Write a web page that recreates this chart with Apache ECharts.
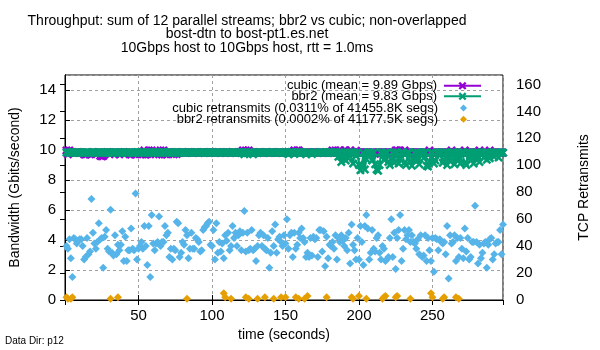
<!DOCTYPE html>
<html>
<head>
<meta charset="utf-8">
<script src="https://cdn.jsdelivr.net/npm/echarts@6/dist/echarts.min.js"></script>
<style>
  html, body { margin: 0; padding: 0; background: #fff; }
  #vis { width: 600px; height: 350px; }
</style>
</head>
<body>
<div id="vis"></div>
<script>
// throughput in Gbps, one value per second (t = 1 .. 298)
const cubicGbps = [
  9.97, 9.72, 9.96, 9.84, 9.83, 9.81, 9.84, 9.83, 9.85, 9.82,
  9.84, 9.83, 9.72, 9.70, 9.74, 9.84, 9.71, 9.73, 9.85, 9.84,
  9.82, 9.84, 9.83, 9.62, 9.58, 9.60, 9.72, 9.82, 9.85, 9.83,
  9.84, 9.82, 9.83, 9.72, 9.84, 9.82, 9.71, 9.84, 9.82, 9.85,
  9.83, 9.84, 9.82, 9.72, 9.70, 9.82, 9.74, 9.71, 9.85, 9.82,
  9.84, 9.83, 9.72, 9.96, 9.70, 9.73, 9.97, 9.71, 9.96, 9.84,
  9.82, 9.85, 9.83, 9.72, 9.96, 9.70, 9.97, 9.73, 9.71, 9.83,
  9.85, 9.83, 9.84, 9.72, 9.83, 9.73, 9.82, 9.84, 9.83, 9.85,
  9.83, 9.82, 9.84, 9.85, 9.83, 9.84, 9.82, 9.83, 9.85, 9.84,
  9.82, 9.84, 9.83, 9.85, 9.82, 9.83, 9.84, 9.82, 9.85, 9.83,
  9.84, 9.82, 9.83, 9.85, 9.84, 9.82, 9.83, 9.84, 9.82, 9.85,
  9.83, 9.84, 9.82, 9.85, 9.83, 9.82, 9.84, 9.83, 9.85, 9.82,
  9.97, 9.84, 9.96, 9.82, 9.97, 9.83, 9.82, 9.84, 9.83, 9.84,
  9.82, 9.85, 9.83, 9.84, 9.82, 9.83, 9.85, 9.84, 9.82, 9.83,
  9.85, 9.83, 9.84, 9.82, 9.83, 9.85, 9.82, 9.84, 9.83, 9.85,
  9.83, 9.84, 9.84, 9.85, 9.83, 9.97, 9.82, 9.96, 9.97, 9.84,
  9.82, 9.84, 9.83, 9.83, 9.82, 9.83, 9.84, 9.84, 9.85, 9.83,
  9.84, 9.82, 9.83, 9.85, 9.84, 9.82, 9.83, 9.84, 9.82, 9.85,
  9.83, 9.97, 9.82, 9.96, 9.83, 9.84, 9.97, 9.83, 9.84, 9.96,
  9.97, 9.83, 9.84, 9.96, 9.82, 9.83, 9.83, 9.95, 9.84, 9.83,
  9.83, 9.84, 9.82, 9.83, 9.84, 9.83, 9.84, 9.82, 9.83, 9.83,
  9.75, 9.83, 9.84, 9.83, 9.83, 9.84, 9.83, 9.82, 9.83, 9.84,
  9.83, 9.84, 9.83, 9.75, 9.96, 9.97, 9.83, 9.96, 9.83, 9.84,
  9.97, 9.83, 9.83, 9.82, 9.83, 9.84, 9.83, 9.83, 9.84, 9.84,
  9.83, 9.82, 9.83, 9.84, 9.84, 9.83, 9.84, 9.96, 9.83, 9.82,
  9.83, 9.84, 9.84, 9.83, 9.82, 9.84, 9.83, 9.84, 9.83, 9.83,
  9.82, 9.83, 9.96, 9.83, 9.84, 9.82, 9.83, 9.83, 9.84, 9.84,
  9.83, 9.97, 9.83, 9.82, 9.84, 9.83, 9.83, 9.84, 9.82, 9.83,
  9.84, 9.97, 9.83, 9.82, 9.84, 9.84, 9.83, 9.83, 9.96, 9.82,
  9.84, 9.83, 9.83, 9.82, 9.84, 9.84, 9.83, 9.82
];

const bbr2Gbps = [
  9.83, 9.85, 9.82, 9.84, 9.83, 9.81, 9.84, 9.83, 9.85, 9.82,
  9.84, 9.83, 9.82, 9.85, 9.83, 9.84, 9.82, 9.83, 9.85, 9.84,
  9.82, 9.84, 9.83, 9.85, 9.82, 9.83, 9.84, 9.82, 9.85, 9.83,
  9.84, 9.82, 9.83, 9.85, 9.84, 9.82, 9.83, 9.84, 9.82, 9.85,
  9.83, 9.84, 9.82, 9.85, 9.83, 9.82, 9.84, 9.83, 9.85, 9.82,
  9.84, 9.83, 9.85, 9.82, 9.84, 9.83, 9.82, 9.85, 9.83, 9.84,
  9.82, 9.85, 9.83, 9.84, 9.82, 9.83, 9.85, 9.84, 9.82, 9.83,
  9.85, 9.83, 9.84, 9.82, 9.83, 9.85, 9.82, 9.84, 9.83, 9.85,
  9.83, 9.82, 9.84, 9.85, 9.83, 9.84, 9.82, 9.83, 9.85, 9.84,
  9.82, 9.84, 9.83, 9.85, 9.82, 9.83, 9.84, 9.82, 9.85, 9.83,
  9.84, 9.82, 9.83, 9.85, 9.84, 9.82, 9.83, 9.84, 9.82, 9.85,
  9.83, 9.84, 9.82, 9.85, 9.83, 9.82, 9.84, 9.83, 9.85, 9.82,
  9.84, 9.72, 9.85, 9.82, 9.84, 9.83, 9.82, 9.72, 9.83, 9.84,
  9.82, 9.85, 9.83, 9.84, 9.82, 9.83, 9.85, 9.84, 9.82, 9.83,
  9.85, 9.83, 9.84, 9.82, 9.83, 9.85, 9.82, 9.84, 9.83, 9.85,
  9.83, 9.72, 9.84, 9.85, 9.83, 9.73, 9.82, 9.83, 9.85, 9.84,
  9.82, 9.84, 9.83, 9.72, 9.82, 9.83, 9.84, 9.73, 9.85, 9.83,
  9.84, 9.82, 9.83, 9.85, 9.84, 9.82, 9.83, 9.84, 9.82, 9.85,
  9.83, 9.84, 9.82, 9.85, 9.83, 9.55, 9.84, 9.20, 9.60, 9.82,
  9.30, 9.83, 9.45, 9.84, 9.82, 9.10, 9.83, 9.60, 9.84, 9.00,
  8.65, 8.95, 9.82, 8.70, 9.40, 9.83, 9.84, 9.82, 9.30, 9.83,
  9.05, 8.70, 8.62, 9.00, 9.83, 9.84, 9.35, 9.82, 9.83, 9.20,
  9.00, 9.35, 9.83, 9.15, 9.84, 9.82, 9.10, 9.40, 9.83, 9.84,
  9.15, 9.00, 9.83, 9.82, 9.25, 8.95, 9.35, 9.83, 9.30, 9.84,
  9.05, 9.82, 9.83, 9.45, 9.84, 8.95, 8.90, 9.25, 9.83, 9.82,
  9.10, 9.30, 9.84, 9.83, 9.82, 9.84, 9.15, 9.35, 9.83, 9.00,
  9.82, 9.25, 9.84, 9.83, 9.05, 9.82, 9.35, 9.83, 9.10, 9.84,
  9.83, 9.15, 9.00, 9.82, 9.84, 9.30, 9.83, 9.10, 9.82, 9.40,
  9.84, 9.20, 9.83, 9.82, 9.50, 9.84, 9.35, 9.83, 9.45, 9.82,
  9.84, 9.55, 9.83, 9.82, 9.50, 9.84, 9.83, 9.82
];

// TCP retransmits per second (right axis)
const cubicRetrans = [
  40, 38, 45, 31, 17, 46, 45, 42, 44, 45,
  45, 40, 30, 32, 46, 34, 36, 75, 50, 42,
  38, 43, 57, 45, 46, 24, 47, 52, 38, 36,
  67, 35, 33, 48, 34, 41, 37, 41, 51, 29,
  47, 29, 37, 37, 53, 38, 37, 79, 30, 38,
  40, 43, 38, 55, 40, 26, 55, 17, 63, 42,
  37, 42, 43, 62, 40, 43, 43, 55, 48, 50,
  32, 38, 30, 38, 37, 58, 57, 32, 35, 43,
  41, 52, 48, 31, 38, 50, 38, 38, 46, 45,
  43, 36, 37, 52, 54, 55, 57, 58, 41, 40,
  52, 30, 57, 35, 43, 36, 42, 31, 48, 44,
  50, 37, 40, 55, 46, 50, 40, 48, 51, 37,
  50, 66, 36, 50, 37, 38, 52, 37, 38, 29,
  40, 48, 50, 40, 48, 38, 37, 46, 24, 35,
  51, 40, 56, 35, 45, 47, 43, 40, 48, 42,
  60, 38, 48, 50, 32, 50, 38, 41, 50, 46,
  53, 46, 43, 32, 35, 32, 46, 33, 47, 45,
  46, 32, 52, 52, 36, 51, 25, 47, 31, 41,
  40, 43, 38, 48, 30, 46, 43, 48, 44, 40,
  46, 37, 50, 27, 56, 41, 37, 30, 46, 30,
  55, 43, 26, 55, 63, 53, 30, 35, 52, 38,
  36, 46, 48, 35, 30, 40, 38, 29, 30, 32,
  46, 60, 32, 50, 23, 46, 52, 63, 29, 38,
  52, 45, 48, 52, 43, 48, 43, 42, 38, 45,
  34, 48, 32, 33, 48, 29, 46, 37, 29, 46,
  21, 46, 45, 37, 45, 43, 42, 43, 34, 55,
  16, 48, 42, 43, 48, 29, 46, 32, 46, 38,
  31, 53, 36, 46, 30, 32, 43, 43, 70, 43,
  27, 41, 31, 35, 42, 43, 24, 41, 45, 46,
  30, 34, 42, 43, 43, 52, 34, 56
];

// bbr2 only retransmitted in a few seconds
const bbr2RetransTimes = [1, 2, 4, 5, 31, 36, 83, 108, 109, 113, 123, 125, 131, 136, 142, 147, 150,
  157, 159, 163, 165, 178, 195, 196, 200, 205, 216, 217, 218, 225, 226, 235, 249, 250, 257, 258, 266, 268];
const bbr2RetransValues = [2, 1, 1, 2, 1, 2, 1, 5, 2, 1, 2, 1, 1, 2, 1, 2, 2,
  2, 1, 1, 3, 2, 2, 1, 3, 1, 1, 2, 3, 2, 3, 1, 5, 2, 1, 2, 2, 1];

const titleLines = [
  "Throughput: sum of 12 parallel streams; bbr2 vs cubic; non-overlapped",
  "bost-dtn to bost-pt1.es.net",
  "10Gbps host to 10Gbps host, rtt = 1.0ms"
];
const seriesNames = [
  "cubic (mean = 9.89 Gbps)",
  "bbr2 (mean = 9.83 Gbps)",
  "cubic retransmits (0.0311% of 41455.8K segs)",
  "bbr2 retransmits (0.0002% of 41177.5K segs)"
];

const FONT = "'Liberation Sans', Arial, sans-serif";
const PURPLE = "#9400d3";
const GREEN = "#009e73";
const BLUE = "#56b4e9";
const ORANGE = "#e69f00";
const XMARK = "path://M0,2 L2,0 L5,3 L8,0 L10,2 L7,5 L10,8 L8,10 L5,7 L2,10 L0,8 L3,5 Z";

const withTime = vals => vals.map((v, i) => [i + 1, v]);

const chart = echarts.init(document.getElementById("vis"), null, { renderer: "canvas" });

const gridLine = { show: true, lineStyle: { color: "#a0a0a0", type: [3, 3], width: 1 } };
const axisText = { color: "#000", fontFamily: FONT, fontSize: 15 };
const nameText = { color: "#000", fontFamily: FONT, fontSize: 14 };

function legendRow(name, top, isLine) {
  return {
    data: [name],
    orient: "vertical",
    align: "right",
    right: isLine ? 113 : 128,
    top: top,
    itemWidth: isLine ? 37 : 7,
    itemHeight: isLine ? 10 : 7,
    icon: isLine ? undefined : "diamond",
    selectedMode: false,
    textStyle: {
      color: "#000", fontFamily: FONT, fontSize: 13,
      padding: isLine ? [0, 2, 0, 0] : [0, 17, 0, 0]
    }
  };
}

const options = {
  animation: false,
  backgroundColor: "#fff",
  textStyle: { fontFamily: FONT },
  grid: { left: 64, right: 97, top: 75, bottom: 50, show: true, borderColor: "#000", borderWidth: 1 },
  graphic: [
    {
      type: "text", x: 247, y: 14,
      style: { text: titleLines.join("\n"), align: "center", verticalAlign: "top",
        font: "14px " + FONT, lineHeight: 13.5, fill: "#000" }
    },
    {
      type: "text", x: 5, y: 341,
      style: { text: "Data Dir: p12", align: "left", verticalAlign: "middle",
        font: "10px " + FONT, fill: "#000" }
    }
  ],
  legend: [
    legendRow(seriesNames[0], 74.3, true),
    legendRow(seriesNames[1], 84.8, true),
    legendRow(seriesNames[2], 96.5, false),
    legendRow(seriesNames[3], 107.7, false)
  ],
  xAxis: [
    {
      type: "value", min: 0, max: 298, interval: 50,
      name: "time (seconds)", nameLocation: "middle", nameGap: 25,
      nameTextStyle: nameText,
      axisLine: { show: true, lineStyle: { color: "#000" } },
      axisTick: { show: true, inside: true, length: 5, lineStyle: { color: "#000" } },
      axisLabel: Object.assign({ margin: 8, showMinLabel: false, showMaxLabel: false }, axisText),
      splitLine: gridLine
    },
    {
      type: "value", min: 0, max: 298, interval: 50, position: "top",
      axisLine: { show: false },
      axisTick: { show: true, inside: true, length: 5, lineStyle: { color: "#000" } },
      axisLabel: { show: false },
      splitLine: { show: false }
    }
  ],
  yAxis: [
    {
      type: "value", min: 0, max: 15, interval: 2, position: "left",
      name: "Bandwidth (Gbits/second)", nameLocation: "middle", nameGap: 43, nameRotate: 90,
      nameTextStyle: nameText,
      axisLine: { show: true, lineStyle: { color: "#000" } },
      axisTick: { show: true, inside: true, length: 5, lineStyle: { color: "#000" } },
      axisLabel: Object.assign({ margin: 9, showMaxLabel: false }, axisText),
      splitLine: gridLine
    },
    {
      type: "value", min: 0, max: 167, interval: 20, position: "right",
      name: "TCP Retransmits", nameLocation: "middle", nameGap: 74, nameRotate: 90,
      nameTextStyle: nameText,
      axisLine: { show: true, lineStyle: { color: "#000" } },
      axisTick: { show: true, inside: true, length: 5, lineStyle: { color: "#000" } },
      axisLabel: Object.assign({ margin: 13, showMaxLabel: false }, axisText),
      splitLine: { show: false }
    }
  ],
  series: [
    {
      name: seriesNames[0], type: "line", data: withTime(cubicGbps),
      symbol: XMARK, symbolSize: 9, showAllSymbol: true,
      lineStyle: { color: PURPLE, width: 2 },
      itemStyle: { color: PURPLE },
      emphasis: { disabled: true }, z: 2
    },
    {
      name: seriesNames[1], type: "line", data: withTime(bbr2Gbps),
      symbol: XMARK, symbolSize: 9, showAllSymbol: true,
      lineStyle: { color: GREEN, width: 2 },
      itemStyle: { color: GREEN },
      emphasis: { disabled: true }, z: 3
    },
    {
      name: seriesNames[2], type: "scatter", yAxisIndex: 1, data: withTime(cubicRetrans),
      symbol: "diamond", symbolSize: 8,
      itemStyle: { color: BLUE, opacity: 1 },
      emphasis: { disabled: true }, z: 4
    },
    {
      name: seriesNames[3], type: "scatter", yAxisIndex: 1,
      data: bbr2RetransTimes.map((t, i) => [t, bbr2RetransValues[i]]),
      symbol: "diamond", symbolSize: 8,
      itemStyle: { color: ORANGE, opacity: 1 },
      emphasis: { disabled: true }, z: 5
    }
  ]
};

chart.setOption(options);
</script>
</body>
</html>
